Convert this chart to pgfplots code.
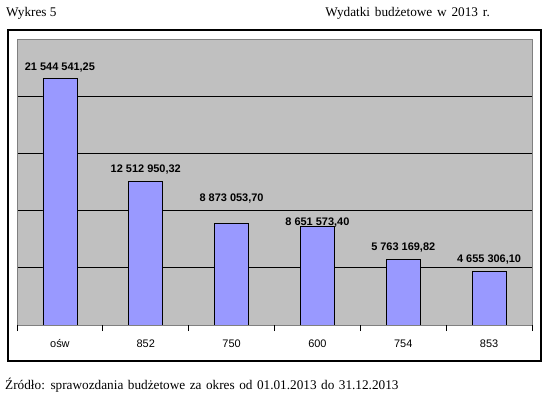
\documentclass[border=0pt]{standalone}
\usepackage{pgfplots}
\usepackage{pgfplotstable}
\pgfplotsset{compat=1.18}
\usepackage{fontspec}
\setmainfont{Liberation Serif}
\newfontfamily\arial{Liberation Sans}
\definecolor{plotgrey}{RGB}{192,192,192}
\definecolor{barblue}{RGB}{153,153,255}
\definecolor{bordergrey}{RGB}{128,128,128}
\pgfplotstableread[col sep=semicolon]{
x;y;label;off
0;21544541.25;21 544 541,25;8.5
1;12512950.32;12 512 950,32;9
2;8873053.70;8 873 053,70;21.5
3;8651573.40;8 651 573,40;0.5
4;5763169.82;5 763 169,82;9
5;4655306.10;4 655 306,10;9
}\datatable
\begin{document}
\begin{tikzpicture}
\path[use as bounding box] (0bp,0bp) rectangle (549bp,399bp);
\draw[black, line width=1.2bp] (8bp,38bp) rectangle (541bp,369bp);
\node[anchor=base west, inner sep=0pt, font=\fontsize{13.3}{16}\selectfont] at (6bp,382bp) {Wykres 5};
\node[anchor=base east, inner sep=0pt, font=\fontsize{13.3}{16}\selectfont] at (490bp,382bp) {\spaceskip=4.8bp Wydatki budżetowe w 2013 r.};
\node[anchor=base west, inner sep=0pt, font=\fontsize{13.3}{16}\selectfont] at (5bp,10bp) {\spaceskip=4.5bp Źródło: sprawozdania budżetowe za okres od 01.01.2013 do 31.12.2013};
\begin{axis}[
  at={(17bp,74bp)}, anchor=south west,
  scale only axis, width=515bp, height=286bp,
  xmin=-0.5, xmax=5.5, ymin=0, ymax=25000000,
  axis background/.style={fill=plotgrey},
  axis line style={draw=bordergrey, line width=0.8bp},
  ytick={0,5000000,10000000,15000000,20000000}, yticklabels={},
  ymajorgrids, grid style={black, line width=0.8bp},
  major tick length=0pt,
  xtick={0,1,2,3,4,5}, xticklabels={ośw,852,750,600,754,853},
  xtick pos=bottom, ytick pos=left,
  x tick style={black, line width=0.8bp},
  extra x ticks={-0.5,0.5,1.5,2.5,3.5,4.5,5.5}, extra x tick labels={},
  extra x tick style={major tick length=6bp, tick align=outside},
  xticklabel style={font=\arial\fontsize{11}{13}\selectfont, anchor=base, yshift=-22bp},
  scaled y ticks=false,
]
\addplot[ybar, bar width=34bp, fill=barblue, draw=black, line width=0.8bp,
  point meta=explicit symbolic, nodes near coords,
  visualization depends on={\thisrow{off} \as \labeloff},
  nodes near coords style={font=\arial\bfseries\fontsize{11}{13}\selectfont, anchor=base, yshift=\labeloff bp, inner sep=0pt}]
table[x=x, y=y, meta=label] {\datatable};
\end{axis}
\end{tikzpicture}
\end{document}
